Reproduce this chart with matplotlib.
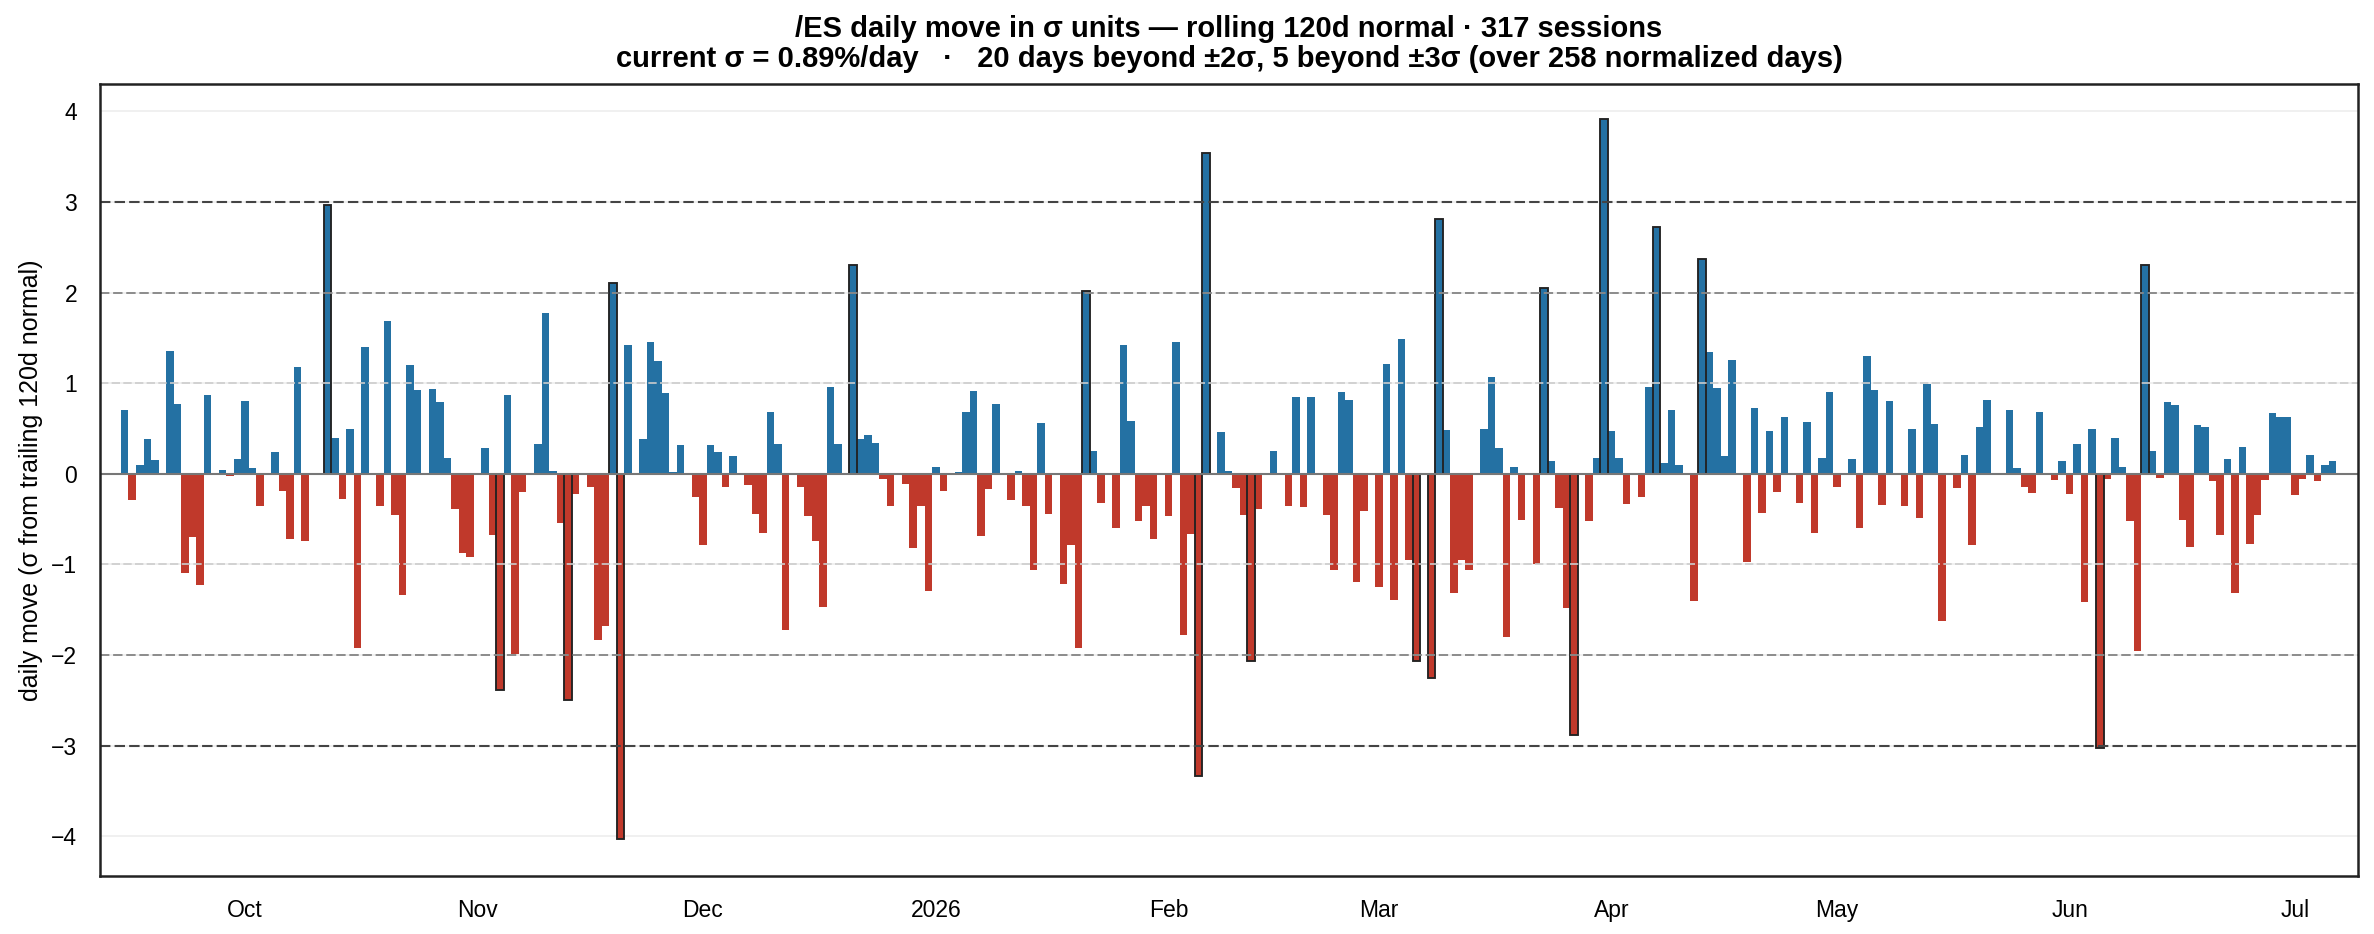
import matplotlib
matplotlib.use("Agg")
import matplotlib.pyplot as plt
import matplotlib.dates as mdates
from matplotlib.ticker import FuncFormatter
import numpy as np
import pandas as pd

# daily move in sigma units, one value per calendar day from 2025-09-15
# (0.0 = no session that day)
start_date = "2025-09-15"
sep_z = [0.70, -0.29, 0.10, 0.38, 0.15, 0.0, 1.36, 0.77, -1.09, -0.70, -1.23, 0.87, 0.0, 0.04, -0.02, 0.16]
oct_z = [0.80, 0.07, -0.36, 0.0, 0.24, -0.19, -0.72, 1.18, -0.74, 0.0, 0.0, 2.97, 0.40, -0.28, 0.49, -1.92,
         1.40, 0.0, -0.36, 1.69, -0.45, -1.34, 1.20, 0.93, 0.0, 0.94, 0.79, 0.18, -0.39, -0.87, -0.92]
nov_z = [0.0, 0.29, -0.67, -2.38, 0.87, -1.99, -0.20, 0.0, 0.33, 1.77, 0.03, -0.54, -2.50, -0.22, 0.0,
         -0.14, -1.83, -1.68, 2.11, -4.03, 1.42, 0.0, 0.38, 1.46, 1.25, 0.89, 0.02, 0.32, 0.0, -0.25]
dec_z = [-0.79, 0.32, 0.24, -0.15, 0.20, 0.0, -0.12, -0.44, -0.65, 0.68, 0.33, -1.72, 0.0, -0.14, -0.47,
         -0.74, -1.47, 0.96, 0.33, 0.0, 2.30, 0.38, 0.43, 0.34, -0.06, -0.35, 0.0, -0.11, -0.82, -0.36, -1.29]
jan_z = [0.08, -0.19, 0.0, 0.02, 0.68, 0.91, -0.69, -0.17, 0.77, 0.0, -0.29, 0.03, -0.36, -1.06, 0.56,
         -0.44, 0.0, -1.21, -0.78, -1.92, 2.02, 0.25, -0.32, 0.0, -0.60, 1.42, 0.58, -0.52, -0.36, -0.72, 0.0]
feb_z = [-0.47, 1.45, -1.78, -0.66, -3.33, 3.54, 0.0, 0.46, 0.03, -0.16, -0.45, -2.06, -0.39, 0.0, 0.25,
         0.0, -0.36, 0.85, -0.37, 0.85, 0.0, -0.45, -1.06, 0.90, 0.82, -1.19, -0.41, 0.0]
mar_z = [-1.25, 1.21, -1.39, 1.49, -0.95, -2.07, 0.0, -2.25, 2.81, 0.48, -1.32, -0.95, -1.06, 0.0, 0.50,
         1.07, 0.29, -1.80, 0.08, -0.51, 0.0, -1.00, 2.05, 0.14, -0.38, -1.48, -2.88, 0.0, -0.52, 0.18, 3.91]
apr_z = [0.47, 0.18, -0.33, 0.0, -0.26, 0.96, 2.72, 0.12, 0.71, 0.10, 0.0, -1.40, 2.37, 1.35, 0.95,
         0.20, 1.26, 0.0, -0.97, 0.73, -0.43, 0.47, -0.20, 0.63, 0.0, -0.32, 0.57, -0.65, 0.17, 0.90]
may_z = [-0.14, 0.0, 0.16, -0.60, 1.30, 0.92, -0.34, 0.80, 0.0, -0.35, 0.49, -0.49, 0.99, 0.55, -1.62,
         0.0, -0.16, 0.21, -0.78, 0.52, 0.81, 0.0, 0.0, 0.71, 0.07, -0.14, -0.21, 0.68, 0.0, -0.07, 0.14]
jun_z = [-0.22, 0.33, -1.41, 0.50, -3.03, -0.06, 0.40, 0.08, -0.52, -1.95, 2.31, 0.25, -0.05, 0.79, 0.76,
         -0.51, -0.81, 0.54, 0.52, -0.08, -0.67, 0.16, -1.32, 0.30, -0.77, -0.45, -0.07, 0.67, 0.63, 0.63]
jul_z = [-0.23, -0.06, 0.21, -0.08, 0.10, 0.14]

z = np.array(sep_z + oct_z + nov_z + dec_z + jan_z + feb_z + mar_z + apr_z + may_z + jun_z + jul_z)
dates = pd.date_range(start_date, periods=len(z), freq="D")

BLUE = "#2471a3"
RED = "#c0392b"

plt.rcParams["font.family"] = ["Liberation Sans", "DejaVu Sans"]

fig, ax = plt.subplots(figsize=(2374 / 150, 934 / 150), dpi=150)
fig.subplots_adjust(left=0.0421, right=0.9933, top=0.910, bottom=0.0625)

colors = np.where(z >= 0, BLUE, RED)
big = np.abs(z) > 2
ax.bar(dates[~big], z[~big], width=1.0, color=colors[~big], linewidth=0)
ax.bar(dates[big], z[big], width=1.0, color=colors[big], edgecolor="#222222", linewidth=0.9)

ax.grid(axis="y", color="#eeeeee", linewidth=0.8)
ax.set_axisbelow(True)
ax.axhline(0, color="#777777", linewidth=1.0)
for lvl in (1, -1):
    ax.axhline(lvl, color="#cccccc", linestyle=(0, (5, 2)), linewidth=0.8)
for lvl in (2, -2):
    ax.axhline(lvl, color="#888888", linestyle=(0, (5, 2)), linewidth=0.9)
for lvl in (3, -3):
    ax.axhline(lvl, color="#444444", linestyle=(0, (5, 2)), linewidth=1.0)

ax.set_ylim(z.min() * 1.1, z.max() * 1.1)
ax.set_xlim(dates[0] - pd.Timedelta(days=3.3), dates[-1] + pd.Timedelta(days=3.4))
ax.set_yticks(range(-4, 5))


def month_label(x, pos):
    d = mdates.num2date(x)
    return str(d.year) if d.month == 1 else d.strftime("%b")


ax.xaxis.set_major_locator(mdates.MonthLocator())
ax.xaxis.set_major_formatter(FuncFormatter(month_label))
ax.tick_params(axis="both", length=0, pad=11, labelsize=11)

for s in ax.spines.values():
    s.set_color("#222222")
    s.set_linewidth(1.2)

ax.set_ylabel("daily move (σ from trailing 120d normal)", fontsize=12)
ax.set_title("/ES daily move in σ units — rolling 120d normal · 317 sessions\n"
             "current σ = 0.89%/day   ·   20 days beyond ±2σ, 5 beyond ±3σ (over 258 normalized days)",
             fontsize=14, fontweight="bold", linespacing=1.1, pad=8)

fig.savefig("out.png", dpi=150)
